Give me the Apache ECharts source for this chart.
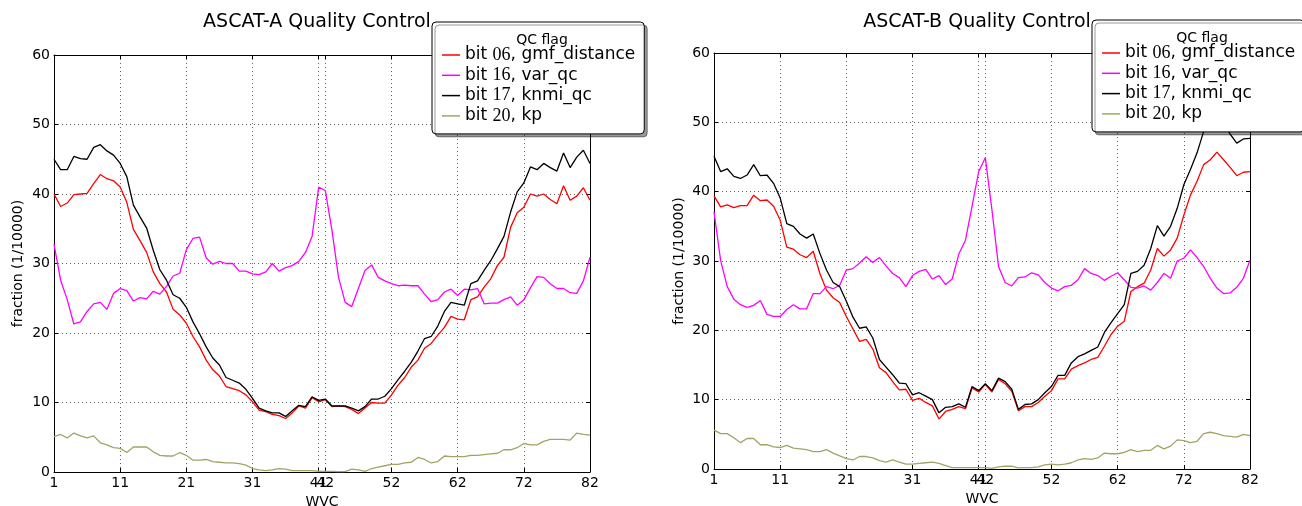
<!DOCTYPE html>
<html>
<head>
<meta charset="utf-8">
<script src="https://cdn.jsdelivr.net/npm/echarts@6/dist/echarts.min.js"></script>
<style>
  html, body { margin: 0; padding: 0; background: #fff; }
  #qc { width: 1302px; height: 506px; }
</style>
</head>
<body>
<div id="qc"></div>
<script>
// wind vector cell index, 1..82
var wvc = [];
for (var i = 1; i <= 82; i++) wvc.push(String(i));
var tickLabels = [1, 11, 21, 31, 41, 42, 52, 62, 72, 82];
var seriesNames = ['bit 06, gmf_distance', 'bit 16, var_qc', 'bit 17, knmi_qc', 'bit 20, kp'];
var seriesColors = ['#ff0000', '#ff00ff', '#000000', '#a3a366'];

// ASCAT-A
var aGmf = [40.0, 38.2, 38.7, 39.9, 40.0, 40.1, 41.5, 42.8, 42.2, 41.9,
  41.0, 38.8, 34.9, 33.3, 31.6, 28.8, 27.1, 25.9, 23.4, 22.6,
  21.4, 19.5, 18.0, 16.1, 14.7, 13.8, 12.3, 12.0, 11.7, 11.1,
  10.1, 8.9, 8.7, 8.3, 8.1, 7.7, 8.5, 9.5, 9.2, 10.7,
  10.1, 10.4, 9.4, 9.5, 9.4, 9.0, 8.4, 9.2, 10.0, 9.9,
  9.9, 11.1, 12.5, 13.6, 15.1, 16.1, 17.8, 18.5, 19.7, 20.8,
  22.4, 22.0, 21.9, 24.8, 25.2, 26.6, 27.8, 29.7, 30.9, 35.2,
  37.3, 38.1, 40.0, 39.7, 40.0, 39.2, 38.6, 41.2, 39.1, 39.7,
  40.9, 39.1];
var aVar = [32.8, 27.6, 24.8, 21.3, 21.6, 23.1, 24.2, 24.4, 23.4, 25.7,
  26.4, 26.1, 24.6, 25.1, 24.9, 26.0, 25.6, 26.7, 28.2, 28.6,
  32.0, 33.6, 33.8, 30.8, 29.9, 30.3, 30.0, 30.0, 28.9, 28.9,
  28.5, 28.4, 28.8, 30.0, 28.9, 29.4, 29.7, 30.3, 31.6, 33.9,
  41.0, 40.5, 34.8, 28.0, 24.4, 23.8, 26.4, 29.0, 29.8, 28.0,
  27.5, 27.1, 26.8, 26.9, 26.8, 26.8, 25.6, 24.5, 24.8, 25.9,
  26.3, 25.4, 26.3, 26.2, 26.4, 24.2, 24.3, 24.3, 24.8, 25.2,
  24.0, 24.8, 26.5, 28.1, 28.0, 27.1, 26.4, 26.4, 25.8, 25.7,
  27.5, 30.9];
var aKnmi = [45.0, 43.5, 43.5, 45.4, 45.1, 45.0, 46.7, 47.1, 46.2, 45.6,
  44.4, 42.5, 38.4, 36.7, 35.1, 31.9, 29.1, 27.6, 25.5, 25.0,
  23.7, 21.6, 19.9, 18.0, 16.4, 15.4, 13.6, 13.2, 12.8, 11.9,
  10.6, 9.2, 8.8, 8.5, 8.5, 8.0, 8.8, 9.6, 9.4, 10.8,
  10.3, 10.5, 9.5, 9.5, 9.5, 9.2, 8.8, 9.4, 10.5, 10.5,
  10.9, 12.0, 13.3, 14.5, 15.8, 17.4, 19.2, 19.5, 21.0, 23.1,
  24.4, 24.2, 24.0, 27.1, 27.5, 29.0, 30.4, 32.1, 33.9, 37.4,
  40.3, 41.6, 43.9, 43.5, 44.4, 43.8, 43.3, 45.9, 43.8, 45.3,
  46.3, 44.4];
var aKp = [5.1, 5.4, 4.9, 5.6, 5.2, 4.9, 5.2, 4.2, 3.9, 3.5,
  3.4, 2.8, 3.6, 3.6, 3.6, 2.9, 2.4, 2.3, 2.3, 2.8,
  2.4, 1.7, 1.7, 1.8, 1.5, 1.4, 1.3, 1.3, 1.2, 1.0,
  0.5, 0.3, 0.2, 0.3, 0.5, 0.4, 0.2, 0.2, 0.2, 0.2,
  0.1, 0.1, 0.1, 0.05, 0.05, 0.4, 0.3, 0.1, 0.5, 0.7,
  0.9, 1.1, 1.1, 1.3, 1.4, 2.1, 1.8, 1.3, 1.5, 2.3,
  2.2, 2.2, 2.2, 2.4, 2.4, 2.5, 2.6, 2.7, 3.2, 3.2,
  3.5, 4.1, 3.9, 3.9, 4.4, 4.7, 4.7, 4.7, 4.6, 5.6,
  5.4, 5.3];

// ASCAT-B
var bGmf = [39.4, 37.8, 38.1, 37.7, 38.0, 38.0, 39.5, 38.7, 38.8, 37.9,
  35.9, 32.0, 31.7, 30.9, 30.5, 31.4, 28.2, 25.8, 24.7, 24.0,
  22.0, 20.2, 18.4, 18.7, 17.3, 14.6, 13.9, 12.6, 11.4, 11.5,
  9.9, 10.2, 9.6, 9.1, 7.2, 8.3, 8.6, 9.0, 8.7, 11.7,
  11.1, 12.2, 11.1, 12.9, 12.3, 11.2, 8.4, 9.0, 9.0, 9.6,
  10.5, 11.3, 13.0, 13.0, 14.4, 14.9, 15.3, 15.8, 16.1, 17.7,
  19.4, 20.6, 21.3, 25.6, 26.3, 26.8, 28.7, 31.8, 30.7, 31.6,
  33.3, 36.6, 39.5, 41.5, 43.9, 44.6, 45.7, 44.6, 43.5, 42.3,
  42.8, 42.9];
var bVar = [37.1, 30.1, 26.3, 24.5, 23.7, 23.3, 23.6, 24.3, 22.3, 22.0,
  22.0, 23.0, 23.7, 23.1, 23.1, 25.3, 25.3, 26.3, 26.0, 26.5,
  28.7, 28.9, 29.7, 30.6, 29.8, 30.5, 29.3, 28.2, 27.6, 26.3,
  27.9, 28.5, 28.8, 27.4, 27.9, 26.6, 27.4, 31.0, 33.0, 37.9,
  42.9, 44.9, 37.4, 29.2, 26.9, 26.4, 27.6, 27.7, 28.3, 28.0,
  26.9, 26.1, 25.7, 26.3, 26.5, 27.3, 28.9, 28.2, 27.9, 27.2,
  27.8, 28.3, 27.3, 26.2, 26.1, 26.4, 25.8, 26.9, 28.2, 27.5,
  30.0, 30.4, 31.6, 30.5, 29.2, 27.5, 26.1, 25.3, 25.4, 26.2,
  27.5, 30.1];
var bKnmi = [45.1, 42.9, 43.3, 42.2, 41.9, 42.4, 43.9, 42.3, 42.4, 41.2,
  39.1, 35.4, 35.0, 33.9, 33.3, 33.9, 31.1, 28.7, 26.9, 26.3,
  24.2, 21.9, 20.3, 20.5, 18.9, 15.8, 14.7, 13.6, 12.4, 12.3,
  10.7, 11.0, 10.5, 10.0, 8.1, 8.9, 9.0, 9.4, 8.9, 11.9,
  11.3, 12.3, 11.3, 13.1, 12.6, 11.5, 8.6, 9.3, 9.4, 10.0,
  11.0, 11.9, 13.5, 13.5, 15.3, 16.2, 16.6, 17.1, 17.6, 19.7,
  21.1, 22.4, 23.7, 28.2, 28.5, 29.4, 31.8, 35.1, 33.6, 35.0,
  37.6, 41.0, 43.2, 45.6, 48.7, 50.3, 50.8, 50.0, 48.3, 47.0,
  47.6, 47.7];
var bKp = [5.6, 5.1, 5.1, 4.5, 3.8, 4.4, 4.4, 3.5, 3.5, 3.2,
  3.1, 3.4, 3.0, 2.9, 2.8, 2.5, 2.5, 2.8, 2.3, 1.9,
  1.5, 1.3, 1.8, 1.8, 1.6, 1.2, 1.0, 1.3, 1.0, 0.7,
  0.7, 0.8, 0.9, 1.0, 0.8, 0.5, 0.2, 0.2, 0.2, 0.2,
  0.2, 0.2, 0.1, 0.3, 0.4, 0.4, 0.15, 0.2, 0.2, 0.3,
  0.6, 0.7, 0.6, 0.7, 0.9, 1.3, 1.5, 1.4, 1.6, 2.3,
  2.2, 2.2, 2.4, 2.8, 2.5, 2.7, 2.7, 3.4, 2.9, 3.3,
  4.2, 4.1, 3.8, 4.0, 5.1, 5.3, 5.1, 4.8, 4.7, 4.6,
  5.0, 4.8];

var panels = [
  { title: 'ASCAT-A Quality Control', titleX: 312, left: 54, top: 55, height: 417, yGap: 29,
    legendLeft: 432, legendTop: 22, data: [aGmf, aVar, aKnmi, aKp] },
  { title: 'ASCAT-B Quality Control', titleX: 972, left: 714, top: 53, height: 416, yGap: 28,
    legendLeft: 1092, legendTop: 20, data: [bGmf, bVar, bKnmi, bKp] }
];

var FONT = 'DejaVu Sans';
function onTick(idx, val) { return tickLabels.indexOf(+val) >= 0; }
var dots = { color: '#666', type: [1, 3], width: 1 };
var frameLine = { show: true, onZero: false, lineStyle: { color: '#000', width: 1 } };
var inTick = { show: true, inside: true, length: 4, lineStyle: { color: '#000' } };

var grids = [], xAxes = [], yAxes = [], series = [], titles = [], legends = [];
panels.forEach(function (p, k) {
  grids.push({ left: p.left, top: p.top, width: 536, height: p.height, outerBoundsMode: 'none', containLabel: false });
  titles.push({ text: p.title, left: p.titleX, top: 8, textAlign: 'center',
    textStyle: { fontFamily: FONT, fontSize: 19, fontWeight: 'normal', color: '#000' } });
  titles.push({ text: 'QC flag', left: p.legendLeft + 105, top: p.legendTop + 6, textAlign: 'center',
    textStyle: { fontFamily: FONT, fontSize: 14, fontWeight: 'normal', color: '#000' } });
  legends.push({
    data: seriesNames, orient: 'vertical', left: p.legendLeft, top: p.legendTop,
    padding: [24, 9, 9, 10], itemGap: 2.3, itemWidth: 18, itemHeight: 1.5, icon: 'rect',
    backgroundColor: '#fff', borderColor: '#000', borderWidth: 1, borderRadius: 4,
    shadowColor: 'rgba(0,0,0,0.4)', shadowBlur: 0, shadowOffsetX: 3, shadowOffsetY: 3,
    formatter: function (name) {
      var m = name.match(/^bit (\d+)(.*)$/);
      return 'bit {n|' + m[1] + '}' + m[2];
    },
    textStyle: { fontFamily: FONT, fontSize: 17, color: '#000', lineHeight: 18,
      rich: { n: { fontFamily: 'Liberation Serif', fontSize: 18, color: '#000' } } }
  });
  xAxes.push({
    gridIndex: k, type: 'category', data: wvc, boundaryGap: false,
    name: 'WVC', nameLocation: 'middle', nameGap: 21,
    nameTextStyle: { fontFamily: FONT, fontSize: 14, color: '#000' },
    axisLine: frameLine,
    axisTick: Object.assign({ interval: onTick }, inTick),
    axisLabel: { interval: onTick, fontFamily: FONT, fontSize: 14, color: '#000', margin: 4 },
    splitLine: { show: true, interval: onTick, lineStyle: dots }
  });
  xAxes.push({
    gridIndex: k, type: 'category', data: wvc, boundaryGap: false, position: 'top',
    axisLine: frameLine,
    axisTick: Object.assign({ interval: onTick }, inTick),
    axisLabel: { show: false }, splitLine: { show: false }
  });
  yAxes.push({
    gridIndex: k, type: 'value', min: 0, max: 60, interval: 10,
    name: 'fraction (1/10000)', nameLocation: 'middle', nameGap: p.yGap,
    nameTextStyle: { fontFamily: FONT, fontSize: 14, color: '#000' },
    axisLine: frameLine,
    axisTick: inTick,
    axisLabel: { fontFamily: FONT, fontSize: 14, color: '#000', margin: 4 },
    splitLine: { show: true, lineStyle: dots }
  });
  yAxes.push({
    gridIndex: k, type: 'value', min: 0, max: 60, interval: 10, position: 'right',
    axisLine: frameLine,
    axisTick: inTick,
    axisLabel: { show: false }, splitLine: { show: false }
  });
  p.data.forEach(function (vals, s) {
    series.push({
      name: seriesNames[s], type: 'line', xAxisIndex: k * 2, yAxisIndex: k * 2,
      data: vals, symbol: 'none', animation: false,
      lineStyle: { color: seriesColors[s], width: 1.3 },
      itemStyle: { color: seriesColors[s] }
    });
  });
});

var chart = echarts.init(document.getElementById('qc'), null, { renderer: 'canvas' });
chart.setOption({
  animation: false,
  backgroundColor: '#fff',
  title: titles,
  legend: legends,
  grid: grids,
  xAxis: xAxes,
  yAxis: yAxes,
  series: series
});
</script>
</body>
</html>
